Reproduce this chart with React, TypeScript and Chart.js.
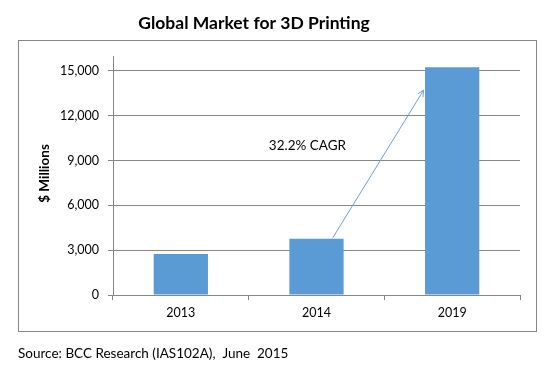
import React, { useEffect, useRef } from "react";
import { Chart, registerables } from "chart.js";

Chart.register(...registerables);

const categories = ["2013", "2014", "2019"];
const marketValues = [2750, 3770, 15250];
const yTickStep = 3000;
const yMax = 16000;
const chartTitle = "Global Market for 3D Printing";
const yAxisTitle = "$ Millions";
const sourceNote = "Source: BCC Research (IAS102A),  June  2015";
const cagrLabel = "32.2% CAGR";
// arrow annotation in data space: [category index offset, value]
const arrowStart = [1.12, 3830];
const arrowEnd = [1.79, 13720];
const cagrLabelPos = [0.7, 10000];

const FONT = "Lato, 'Liberation Sans', sans-serif";
const GRAY = "#878787";
const BAR = "#5B9BD5";

const decorPlugin = {
  id: "decor",
  beforeDraw(chart: any) {
    const ctx = chart.ctx;
    ctx.save();
    ctx.fillStyle = "#ffffff";
    ctx.fillRect(0, 0, chart.width, chart.height);
    ctx.strokeStyle = GRAY;
    ctx.lineWidth = 1;
    ctx.strokeRect(18.5, 40.5, 518, 291);
    ctx.restore();
  },
  afterDraw(chart: any) {
    const ctx = chart.ctx;
    const xs = chart.scales.x;
    const ys = chart.scales.y;
    ctx.save();
    // title
    ctx.fillStyle = "#000";
    ctx.font = `bold 17.5px ${FONT}`;
    ctx.textAlign = "center";
    ctx.textBaseline = "middle";
    ctx.fillText(chartTitle, 254, 23);
    // y axis title
    ctx.save();
    ctx.translate(45, (ys.top + ys.bottom) / 2 - 2);
    ctx.rotate(-Math.PI / 2);
    ctx.font = `bold 13.5px ${FONT}`;
    ctx.fillText(yAxisTitle, 0, 0);
    ctx.restore();
    // source
    ctx.font = `13.5px ${FONT}`;
    ctx.textAlign = "left";
    ctx.fillText(sourceNote, 18, 354);
    // CAGR label
    ctx.font = `13.5px ${FONT}`;
    ctx.textAlign = "left";
    const lx = xs.getPixelForValue(cagrLabelPos[0]);
    const ly = ys.getPixelForValue(cagrLabelPos[1]);
    ctx.fillText(cagrLabel, lx - 7, ly);
    // arrow
    const x1 = xs.getPixelForValue(arrowStart[0]);
    const y1 = ys.getPixelForValue(arrowStart[1]);
    const x2 = xs.getPixelForValue(arrowEnd[0]);
    const y2 = ys.getPixelForValue(arrowEnd[1]);
    ctx.strokeStyle = "#6FA3D9";
    ctx.lineWidth = 1;
    ctx.beginPath();
    ctx.moveTo(x1, y1);
    ctx.lineTo(x2, y2);
    const ang = Math.atan2(y2 - y1, x2 - x1);
    const ah = 7;
    ctx.moveTo(x2, y2);
    ctx.lineTo(x2 - ah * Math.cos(ang - 0.45), y2 - ah * Math.sin(ang - 0.45));
    ctx.moveTo(x2, y2);
    ctx.lineTo(x2 - ah * Math.cos(ang + 0.45), y2 - ah * Math.sin(ang + 0.45));
    ctx.stroke();
    ctx.restore();
  },
};

export default function App() {
  const ref = useRef<HTMLCanvasElement | null>(null);
  useEffect(() => {
    if (!ref.current) return;
    const chart = new Chart(ref.current, {
      type: "bar",
      data: {
        labels: categories,
        datasets: [
          {
            data: marketValues,
            backgroundColor: BAR,
            borderWidth: 0,
            barPercentage: 0.4,
            categoryPercentage: 1,
          },
        ],
      },
      options: {
        animation: false,
        responsive: false,
        devicePixelRatio: 1,
        layout: { padding: { left: 0, right: 36, top: 56, bottom: 47 } },
        plugins: {
          legend: { display: false },
          title: { display: false },
          tooltip: { enabled: false },
        },
        scales: {
          x: {
            grid: {
              offset: true,
              drawOnChartArea: false,
              drawTicks: true,
              tickLength: 5,
              color: GRAY,
            },
            border: { color: GRAY, width: 1 },
            ticks: {
              color: "#000",
              font: { family: FONT, size: 12.5 },
              padding: 5,
            },
            afterFit: (s: any) => {
              s.height = 30;
            },
          },
          y: {
            min: 0,
            max: yMax,
            grid: { color: GRAY, tickLength: 5, drawTicks: true },
            border: { color: GRAY, width: 1 },
            ticks: {
              stepSize: 1000,
              color: "#000",
              padding: 9,
              font: { family: FONT, size: 12.5 },
              callback: (v: any) =>
                Number(v) % yTickStep === 0 ? Number(v).toLocaleString("en-US") : null,
            },
            afterFit: (s: any) => {
              s.width = 113;
            },
          },
        },
      },
      plugins: [decorPlugin],
    });
    return () => chart.destroy();
  }, []);
  return (
    <div style={{ position: "fixed", left: 0, top: 0, width: 556, height: 372, background: "#fff" }}>
      <canvas ref={ref} width={556} height={372} style={{ width: 556, height: 372 }} />
    </div>
  );
}
